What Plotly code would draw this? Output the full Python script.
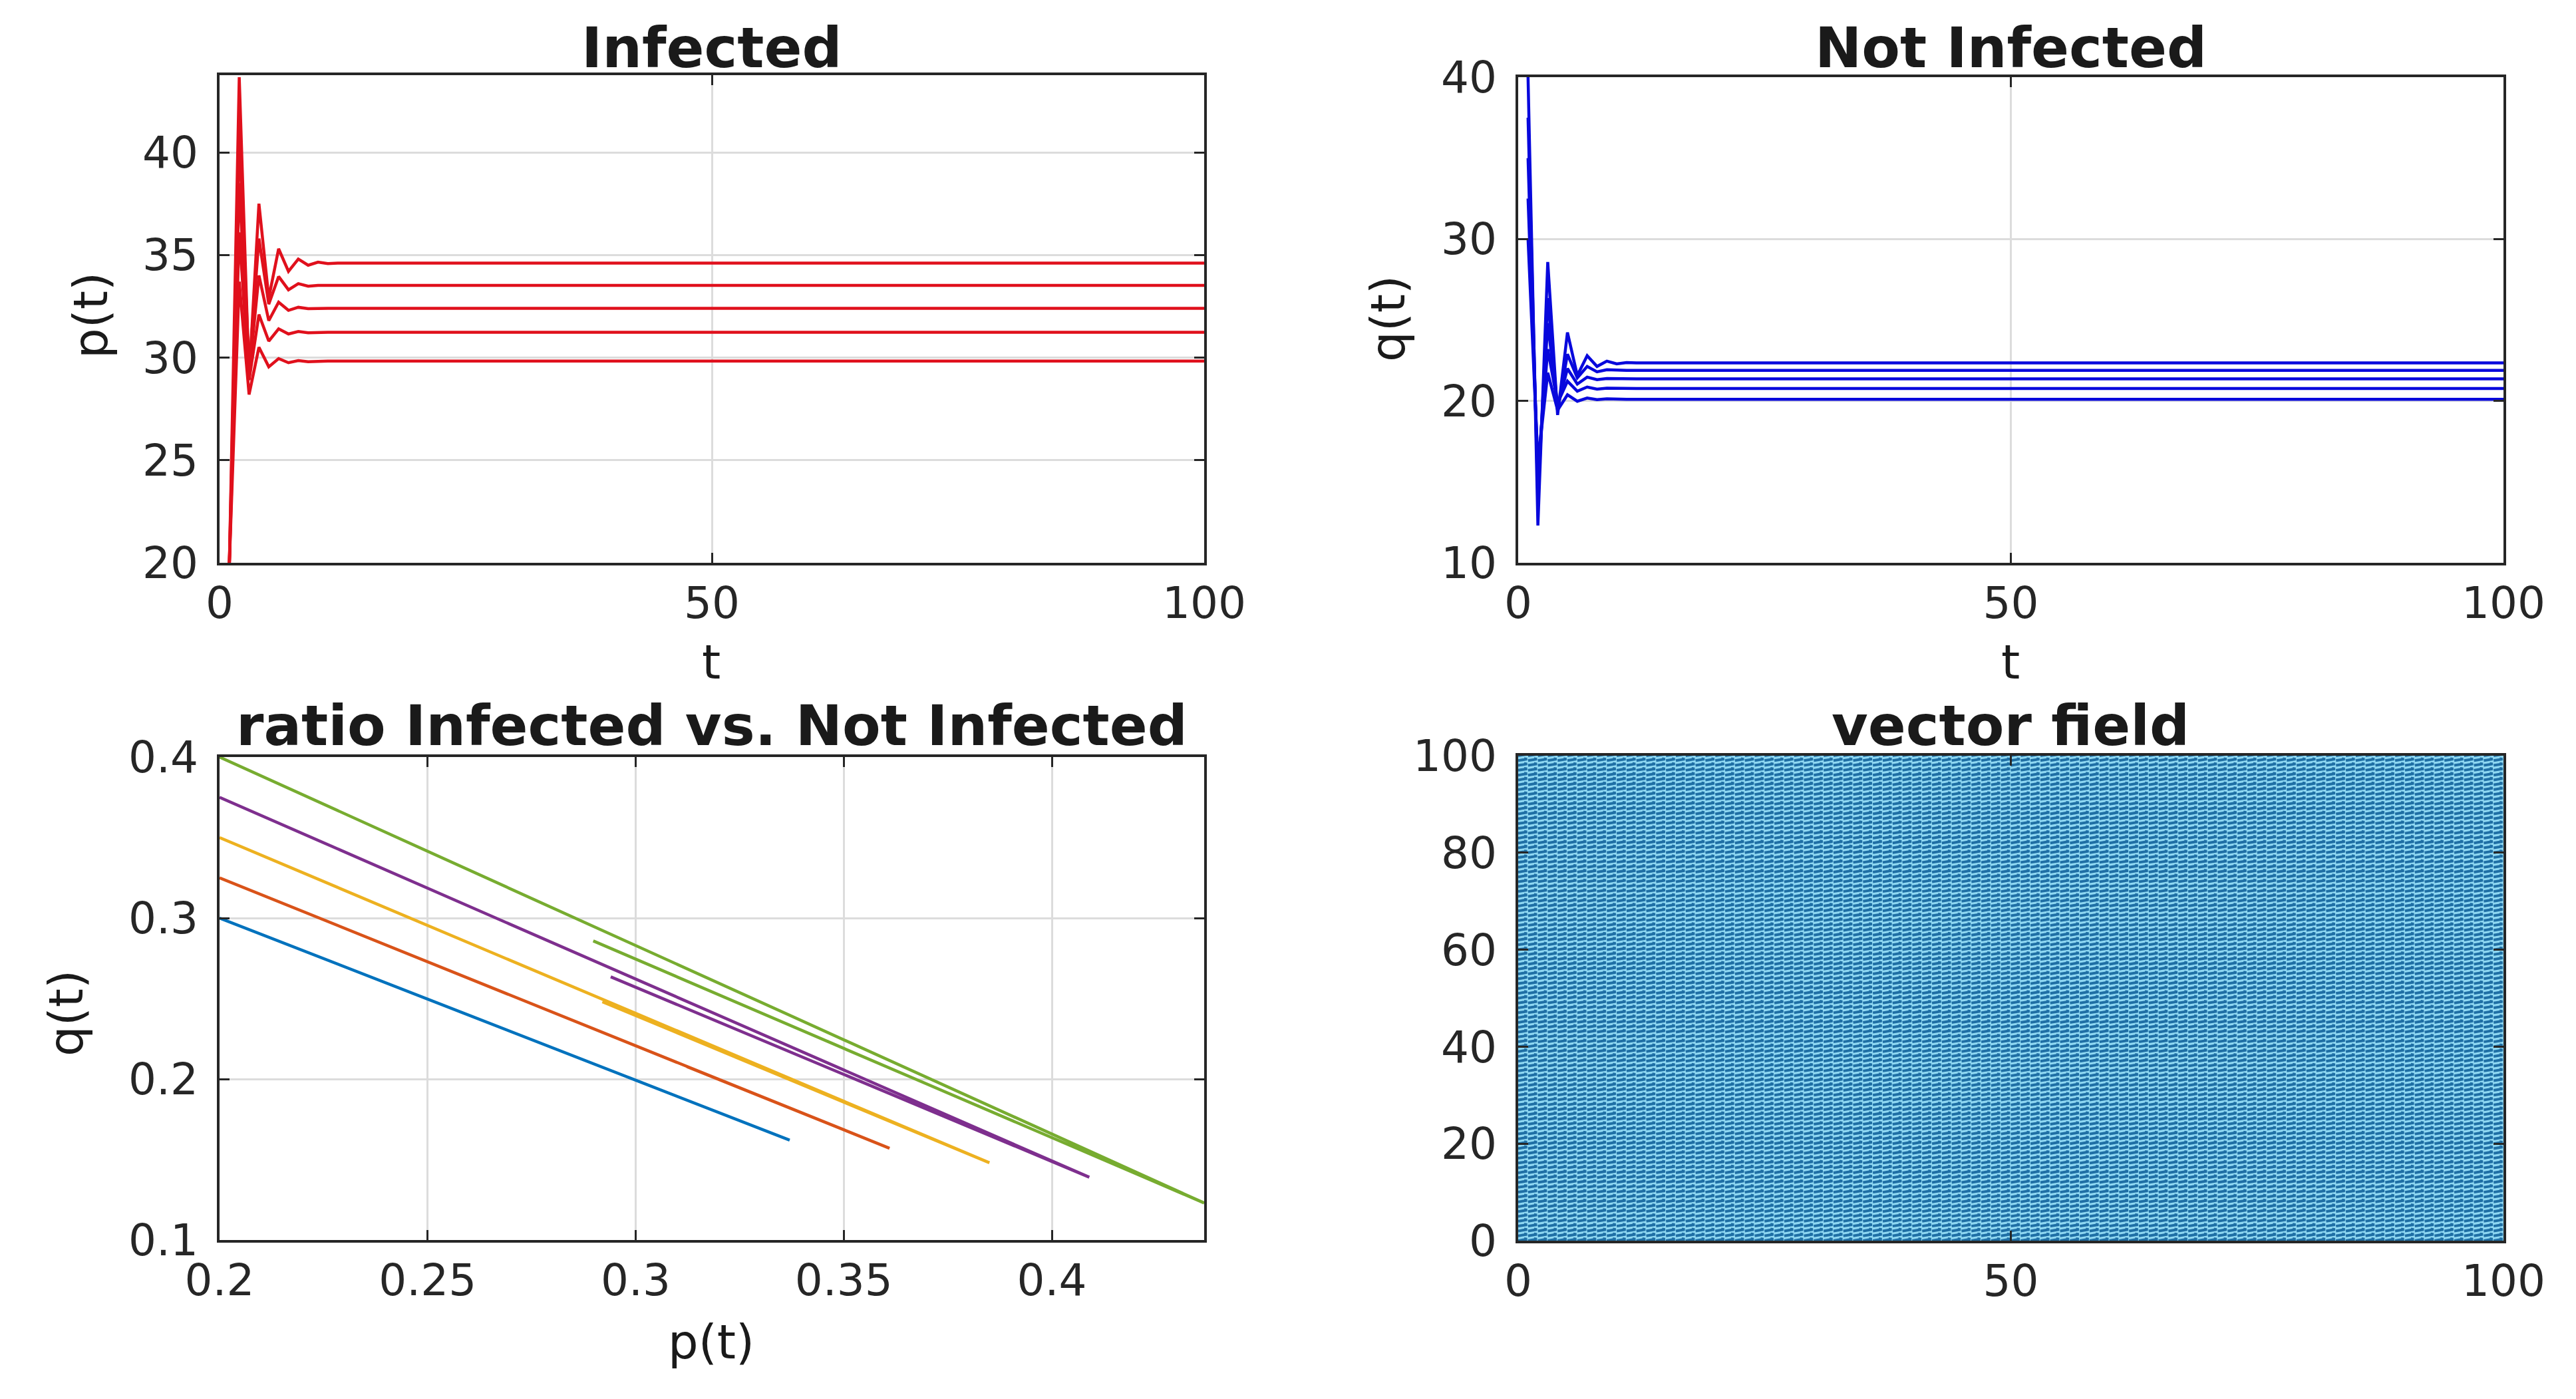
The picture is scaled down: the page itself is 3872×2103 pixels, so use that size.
import numpy as np
import plotly.graph_objects as go

# time points, values are flat after t=12
t = [1, 2, 3, 4, 5, 6, 7, 8, 9, 10, 11, 12, 100]

# infected, p(t)
p1 = [20, 33.7, 28.2, 30.5, 29.55, 29.95, 29.75, 29.85, 29.8, 29.83, 29.83, 29.83, 29.83]
p2 = [20, 36.1, 28.9, 32.1, 30.8, 31.4, 31.15, 31.27, 31.21, 31.23, 31.23, 31.23, 31.23]
p3 = [20, 38.5, 29.2, 34.0, 31.8, 32.7, 32.3, 32.45, 32.38, 32.4, 32.4, 32.4, 32.4]
p4 = [20, 40.9, 29.4, 35.8, 32.6, 33.95, 33.3, 33.6, 33.48, 33.52, 33.52, 33.52, 33.52]
p5 = [20, 43.66, 28.98, 37.5, 32.9, 35.3, 34.2, 34.8, 34.5, 34.65, 34.58, 34.6, 34.6]

# not infected, q(t)
q1 = [30, 16.2, 21.74, 19.43, 20.38, 19.98, 20.18, 20.08, 20.13, 20.1, 20.1, 20.1, 20.1]
q2 = [32.5, 15.7, 23.2, 19.87, 21.22, 20.6, 20.86, 20.73, 20.79, 20.77, 20.77, 20.77, 20.77]
q3 = [35, 14.8, 24.8, 19.64, 22.0, 21.04, 21.47, 21.31, 21.38, 21.36, 21.36, 21.36, 21.36]
q4 = [37.5, 13.9, 26.35, 19.42, 22.89, 21.42, 22.13, 21.8, 21.93, 21.89, 21.89, 21.89, 21.89]
q5 = [40, 12.3, 28.58, 19.13, 24.23, 21.57, 22.79, 22.13, 22.46, 22.29, 22.37, 22.35, 22.35]

p_series = [p1, p2, p3, p4, p5]
q_series = [q1, q2, q3, q4, q5]
ratio_colors = ['#0072BD', '#D95319', '#EDB120', '#7E2F8E', '#77AC30']

# vector field grid and its (constant) arrow
field_x = list(range(0, 101))
field_y = list(range(0, 101))
field_u = 0.9
field_v = 0.3
head_u = -0.3
head_v = 0.1

W = 3872
H = 2103
FONT = 'DejaVu Sans'
TICK = 66
GRID = '#dcdcdc'
AXIS = '#262626'

fig = go.Figure()

for p in p_series:
  fig.add_trace(go.Scatter(x=t, y=p, mode='lines', line=dict(color='#e0101c', width=4.5), xaxis='x', yaxis='y', showlegend=False))
for q in q_series:
  fig.add_trace(go.Scatter(x=t, y=q, mode='lines', line=dict(color='#0808dc', width=4.5), xaxis='x2', yaxis='y2', showlegend=False))
for p, q, c in zip(p_series, q_series, ratio_colors):
  fig.add_trace(go.Scatter(x=[v / 100 for v in p], y=[v / 100 for v in q], mode='lines',
                           line=dict(color=c, width=4.5), xaxis='x3', yaxis='y3', showlegend=False))

# each arrow: shaft plus one head stroke, split by NaN
gx, gy = np.meshgrid(field_x, field_y)
gx = gx.ravel().astype(float)
gy = gy.ravel().astype(float)
gap = np.full(gx.shape, np.nan)
arrow_x = np.column_stack([gx, gx + field_u, gx + field_u + head_u, gap]).ravel()
arrow_y = np.column_stack([gy, gy + field_v, gy + field_v + head_v, gap]).ravel()
fig.add_trace(go.Scatter(x=arrow_x, y=arrow_y, mode='lines', hoverinfo='skip', line=dict(color='#1f6fa5', width=4, simplify=False),
                         xaxis='x4', yaxis='y4', showlegend=False))


def dom_x(a, b):
  return [a / W, b / W]


def dom_y(top, bottom):
  return [1 - bottom / H, 1 - top / H]


def axis(domain, rng, ticks, labels=None, anchor=None, grid=True, standoff=0):
  return dict(domain=domain, range=rng, tickmode='array', tickvals=ticks, ticktext=labels,
              showline=True, linecolor=AXIS, linewidth=3.5, mirror='ticks', ticks='inside', ticklen=15,
              tickwidth=3, tickcolor=AXIS, showgrid=grid, gridcolor=GRID, gridwidth=3, zeroline=False,
              tickfont=dict(family=FONT, size=TICK, color='#262626'), anchor=anchor, automargin=False,
              ticklabelstandoff=standoff)


def note(text, x, y, size, angle=0):
  return dict(text=text, x=x / W, y=1 - y / H, xref='paper', yref='paper', showarrow=False, textangle=angle,
              xanchor='center', yanchor='middle', font=dict(family=FONT, size=size, color='#1a1a1a'))


annotations = [note('<b>Infected</b>', 1070, 72, 84), note('<b>Not Infected</b>', 3022, 72, 84),
               note('<b>ratio Infected vs. Not Infected</b>', 1070, 1091, 84), note('<b>vector field</b>', 3022, 1091, 84),
               note('t', 1069, 995, 72), note('t', 3022, 995, 72), note('p(t)', 1069, 2017, 72),
               note('p(t)', 136, 474, 72, -90), note('q(t)', 2086, 479, 72, -90), note('q(t)', 99, 1523, 72, -90)]

fig.update_layout(
  width=W, height=H, autosize=False, margin=dict(l=0, r=0, t=0, b=0),
  paper_bgcolor='white', plot_bgcolor='white', showlegend=False, hovermode=False,
  xaxis=axis(dom_x(330, 1810), [0, 100], [0, 50, 100], anchor='y'),
  yaxis=axis(dom_y(113, 846), [20, 43.76], [20, 25, 30, 35, 40], anchor='x', standoff=15),
  xaxis2=axis(dom_x(2282, 3763), [0, 100], [0, 50, 100], anchor='y2'),
  yaxis2=axis(dom_y(116, 846), [10, 40], [10, 20, 30, 40], anchor='x2', standoff=15),
  xaxis3=axis(dom_x(330, 1810), [0.2, 0.4366], [0.2, 0.25, 0.3, 0.35, 0.4], ['0.2', '0.25', '0.3', '0.35', '0.4'], anchor='y3'),
  yaxis3=axis(dom_y(1138, 1864), [0.1, 0.4], [0.1, 0.2, 0.3, 0.4], ['0.1', '0.2', '0.3', '0.4'], anchor='x3', standoff=15),
  xaxis4=axis(dom_x(2282, 3763), [0, 100], [0, 50, 100], anchor='y4', grid=False),
  yaxis4=axis(dom_y(1136, 1865), [0, 100], [0, 20, 40, 60, 80, 100], anchor='x4', grid=False, standoff=15),
  annotations=annotations,
  # light tone that shows between the arrow rows
  shapes=[dict(type='rect', xref='x4 domain', yref='y4 domain', x0=0, x1=1, y0=0, y1=1, layer='below',
               fillcolor='#8fd8f2', line=dict(width=0))],
)

fig.write_html('out.html', config=dict(displayModeBar=False), post_script="document.body.style.margin='0';")
